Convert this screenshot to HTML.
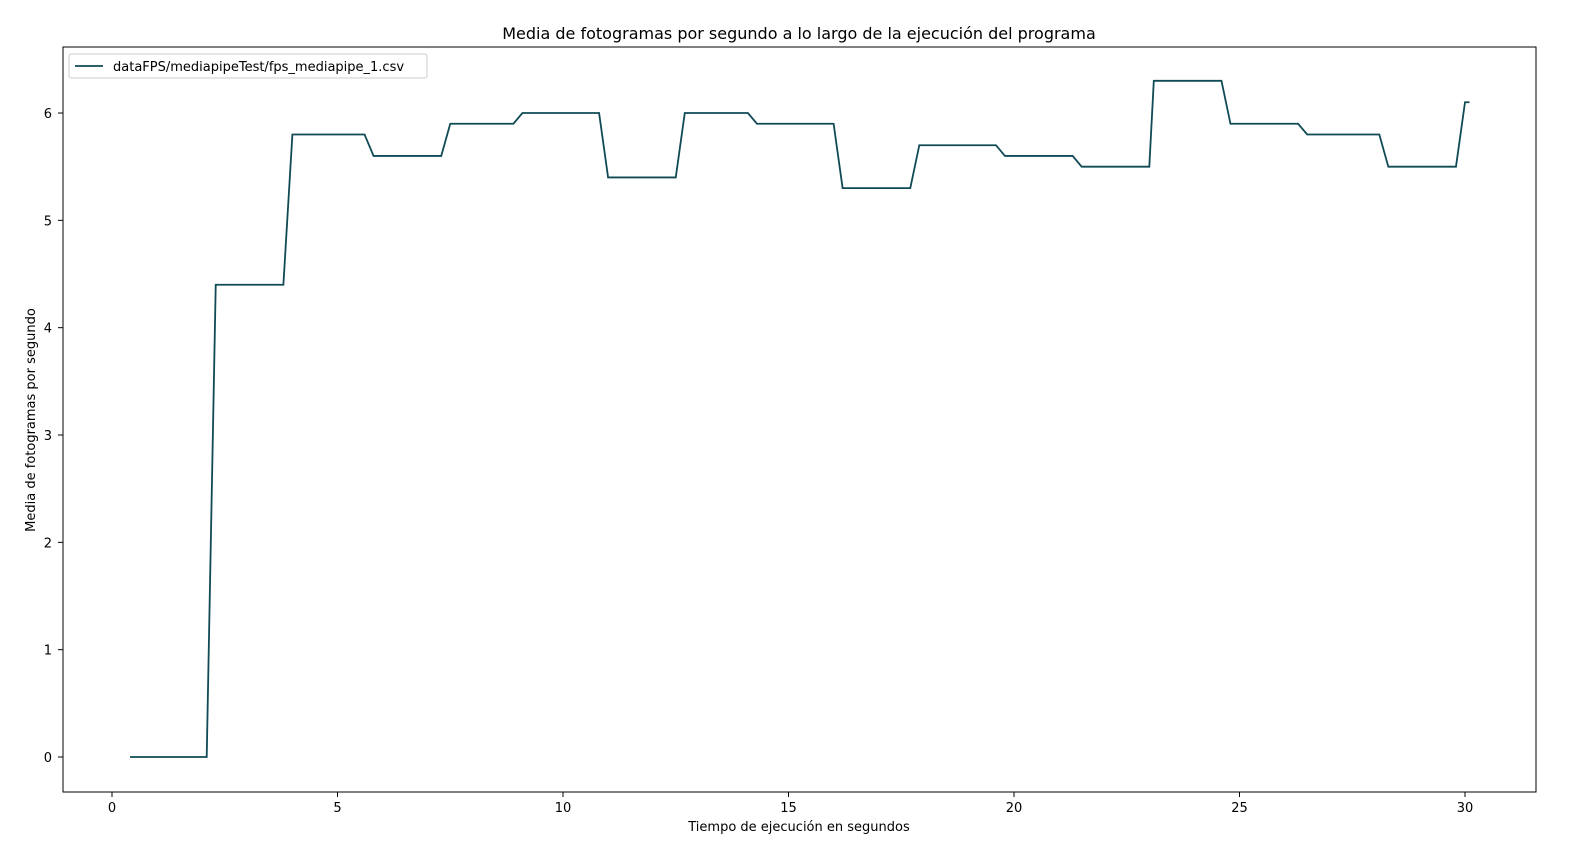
<!DOCTYPE html>
<html><head><meta charset="utf-8"><style>
body{margin:0;background:#fff;font-family:"Liberation Sans","DejaVu Sans",sans-serif}
svg text{font-family:"DejaVu Sans","Liberation Sans",sans-serif}
</style></head><body>
<svg id="chart" width="1583" height="858" xmlns="http://www.w3.org/2000/svg">
<rect width="1583" height="858" fill="#fff"/>
<text x="799" y="39" font-size="16" text-anchor="middle">Media de fotogramas por segundo a lo largo de la ejecución del programa</text>
<g id="ticks"></g>
<path id="line" fill="none" stroke="#0f4a55" stroke-width="1.8"/>
<rect x="63" y="47" width="1473" height="745" fill="none" stroke="#000" stroke-width="1"/>
<text x="799" y="831" font-size="13" text-anchor="middle">Tiempo de ejecución en segundos</text>
<text transform="translate(35,420) rotate(-90)" font-size="13" text-anchor="middle">Media de fotogramas por segundo</text>
<g>
<rect x="69" y="54" width="358" height="24" fill="#fff" stroke="#ccc" rx="2"/>
<line x1="75" y1="66" x2="103" y2="66" stroke="#0f4a55" stroke-width="1.8"/>
<text x="113" y="71" font-size="13">dataFPS/mediapipeTest/fps_mediapipe_1.csv</text>
</g>
</svg>
<script>
const xs=[0.4,2.1,2.3,3.8,4.0,5.6,5.8,7.3,7.5,8.9,9.1,10.8,11.0,12.5,12.7,14.1,14.3,16.0,16.2,17.7,17.9,19.6,19.8,21.3,21.5,23.0,23.1,24.6,24.8,26.3,26.5,28.1,28.3,29.8,30.0,30.1];
const ys=[0,0,4.4,4.4,5.8,5.8,5.6,5.6,5.9,5.9,6.0,6.0,5.4,5.4,6.0,6.0,5.9,5.9,5.3,5.3,5.7,5.7,5.6,5.6,5.5,5.5,6.3,6.3,5.9,5.9,5.8,5.8,5.5,5.5,6.1,6.1];
const xTicks=[0,5,10,15,20,25,30];
const yTicks=[0,1,2,3,4,5,6];
const X=v=>112+v*45.1, Y=v=>757-v*107.33;
const ns="http://www.w3.org/2000/svg", g=document.getElementById('ticks');
xTicks.forEach(t=>{
 const l=document.createElementNS(ns,'line');
 
 
 l.setAttribute('x1',X(t));l.setAttribute('x2',X(t));l.setAttribute('y1',792);l.setAttribute('y2',797);l.setAttribute('stroke','#000');g.appendChild(l);
 const tx=document.createElementNS(ns,'text');
 
 
 tx.setAttribute('x',X(t));tx.setAttribute('y',812);tx.setAttribute('font-size','13');tx.setAttribute('text-anchor','middle');tx.textContent=t;g.appendChild(tx);
});
yTicks.forEach(t=>{
 const l=document.createElementNS(ns,'line');
 
 
 l.setAttribute('x1',58);l.setAttribute('x2',63);l.setAttribute('y1',Y(t));l.setAttribute('y2',Y(t));l.setAttribute('stroke','#000');g.appendChild(l);
 const tx=document.createElementNS(ns,'text');
 
 
 tx.setAttribute('x',52);tx.setAttribute('y',Y(t)+5);tx.setAttribute('font-size','13');tx.setAttribute('text-anchor','end');tx.textContent=t;g.appendChild(tx);
});
document.getElementById('line').setAttribute('d',xs.map((x,i)=>(i?'L':'M')+X(x)+','+Y(ys[i])).join(''));
</script>
</body></html>
